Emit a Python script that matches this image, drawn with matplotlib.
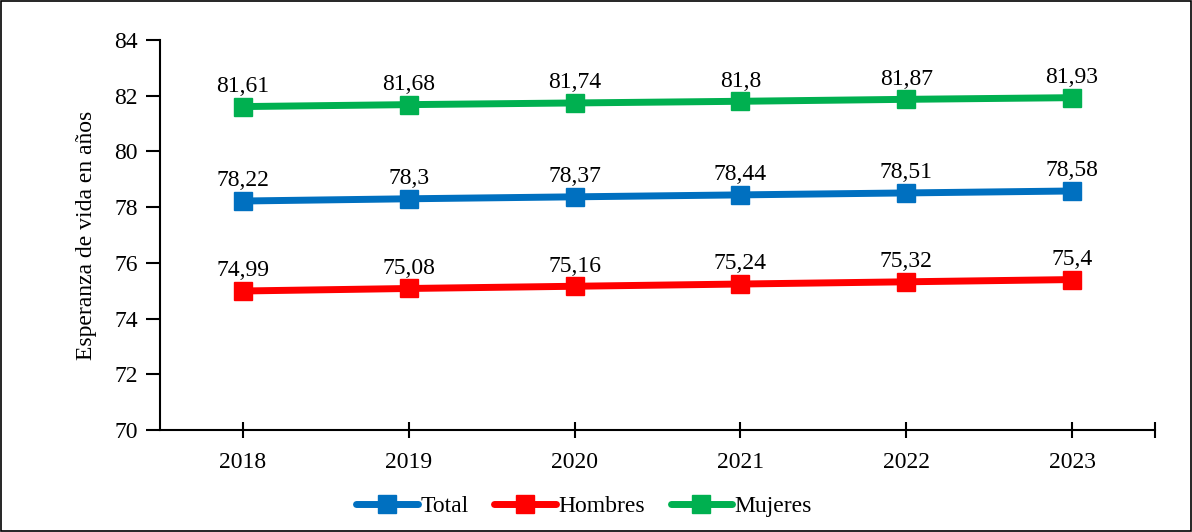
import matplotlib
matplotlib.use("Agg")
import matplotlib.pyplot as plt
from matplotlib.patches import Rectangle

years = ["2018", "2019", "2020", "2021", "2022", "2023"]
total = [78.22, 78.30, 78.37, 78.44, 78.51, 78.58]
hombres = [74.99, 75.08, 75.16, 75.24, 75.32, 75.40]
mujeres = [81.61, 81.68, 81.74, 81.80, 81.87, 81.93]

series = [("Total", total, "#0070C0"),
          ("Hombres", hombres, "#FF0000"),
          ("Mujeres", mujeres, "#00B050")]

plt.rcParams["font.family"] = ["Liberation Serif", "DejaVu Serif"]
plt.rcParams["font.size"] = 17

fig = plt.figure(figsize=(11.92, 5.32), dpi=100)
ax = fig.add_axes([160 / 1192, 102 / 532, 995 / 1192, 390 / 532])

x = list(range(len(years)))
for name, vals, color in series:
    ax.plot(x, vals, "-s", color=color, lw=5, ms=13, label=name,
            solid_capstyle="round")
    for xi, v in zip(x, vals):
        ax.annotate(f"{v:g}".replace(".", ","), (xi, v), xytext=(0, 7),
                    textcoords="offset points", ha="center", va="bottom")

ax.set_xlim(-0.5, 5.5)
ax.set_ylim(70, 84)
ax.set_yticks(range(70, 85, 2))
ax.set_xticks(x + [5.5])
ax.set_xticklabels(years + [""])
ax.tick_params(axis="x", direction="inout", length=12, width=1.5, pad=10)
ax.tick_params(axis="y", direction="out", length=10, width=1.5, pad=6)
for s in ("top", "right"):
    ax.spines[s].set_visible(False)
for s in ("left", "bottom"):
    ax.spines[s].set_linewidth(1.5)
ax.set_ylabel("Esperanza de vida en años", labelpad=12)

fig.legend(loc="lower center", bbox_to_anchor=(0.49, -0.012), ncol=3,
           frameon=False, handlelength=2.6, columnspacing=1.1,
           handletextpad=0.1)

fig.patches.append(Rectangle((0.001, 0.002), 0.998, 0.996, transform=fig.transFigure,
                             fill=False, edgecolor="black", lw=1.2))
fig.savefig("out.png", dpi=100)
